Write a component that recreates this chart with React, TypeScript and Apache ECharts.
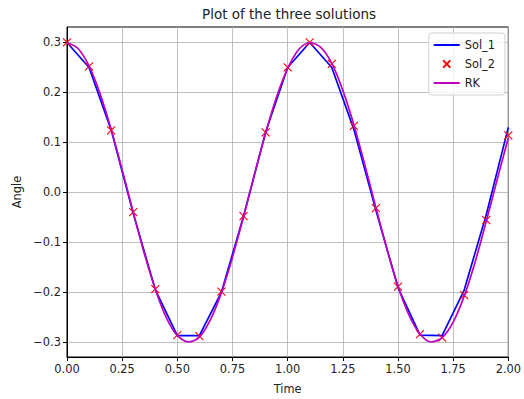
import React, { useEffect, useRef } from "react";
import * as echarts from "echarts";

const times = [0, 0.1, 0.2, 0.3, 0.4, 0.5, 0.6, 0.7, 0.8, 0.9, 1.0, 1.1, 1.2, 1.3, 1.4, 1.5, 1.6, 1.7, 1.8, 1.9, 2.0];
const sol1 = [0.3, 0.25, 0.125, -0.042, -0.195, -0.287, -0.287, -0.2, -0.048, 0.12, 0.25, 0.3, 0.25, 0.126, -0.036, -0.191, -0.286, -0.287, -0.196, -0.045, 0.13];
const sol2 = [0.3, 0.252, 0.124, -0.04, -0.194, -0.286, -0.288, -0.199, -0.048, 0.12, 0.25, 0.3, 0.257, 0.133, -0.032, -0.189, -0.284, -0.291, -0.206, -0.056, 0.114];
const rkTimes = [0, 0.05, 0.1, 0.15, 0.2, 0.25, 0.3, 0.35, 0.4, 0.45, 0.5, 0.55, 0.6, 0.65, 0.7, 0.75, 0.8, 0.85, 0.9, 0.95, 1.0, 1.05, 1.1, 1.15, 1.2, 1.25, 1.3, 1.35, 1.4, 1.45, 1.5, 1.55, 1.6, 1.65, 1.7, 1.75, 1.8, 1.85, 1.9, 1.95, 2.0];
const rk = [0.3, 0.288, 0.253, 0.197, 0.126, 0.045, -0.04, -0.122, -0.194, -0.251, -0.287, -0.3, -0.29, -0.255, -0.201, -0.13, -0.049, 0.036, 0.118, 0.191, 0.248, 0.286, 0.3, 0.29, 0.258, 0.204, 0.135, 0.054, -0.031, -0.114, -0.188, -0.246, -0.284, -0.3, -0.291, -0.26, -0.208, -0.139, -0.058, 0.026, 0.109];
const yTicks = [-0.3, -0.2, -0.1, 0, 0.1, 0.2, 0.3];

const FONT = "DejaVu Sans";
const TXT = "#222";
const XMARK = "path://M0,0L10,10M10,0L0,10";

export default function App() {
  const ref = useRef<HTMLDivElement>(null);
  useEffect(() => {
    if (!ref.current) return;
    const chart = echarts.init(ref.current, undefined, { renderer: "svg" });
    const fmtY = (v: number) => {
      const s = Math.abs(v).toFixed(1);
      return v < -1e-9 ? "\u2212" + s : s;
    };
    chart.setOption({
      animation: false,
      backgroundColor: "#fff",
      grid: { left: 67, top: 27, right: 13, bottom: 42, show: true, borderColor: "#000", borderWidth: 1 },
      graphic: [
        {
          type: "text",
          x: 289,
          y: 14,
          style: { text: "Plot of the three solutions", font: `13.5px "${FONT}"`, fill: TXT, align: "center", verticalAlign: "middle" },
        },
      ],
      xAxis: {
        type: "value",
        min: 0,
        max: 2,
        interval: 0.25,
        name: "Time",
        nameLocation: "middle",
        nameGap: 26,
        nameTextStyle: { fontFamily: FONT, fontSize: 11.4, color: TXT },
        axisLine: { show: true, onZero: false, lineStyle: { color: "#000", width: 1 } },
        axisTick: { show: true, length: 4, lineStyle: { color: "#000" } },
        axisLabel: { fontFamily: FONT, fontSize: 11.4, color: TXT, margin: 6, formatter: (v: number) => v.toFixed(2) },
        splitLine: { show: true, lineStyle: { color: "#b0b0b0", width: 0.8 } },
      },
      yAxis: {
        type: "value",
        min: -0.33,
        max: 0.331,
        name: "Angle",
        nameLocation: "middle",
        nameGap: 44,
        nameTextStyle: { fontFamily: FONT, fontSize: 11.4, color: TXT },
        axisLine: { show: true, onZero: false, lineStyle: { color: "#000", width: 1 } },
        axisTick: { show: true, length: 4, lineStyle: { color: "#000" }, customValues: yTicks },
        axisLabel: { fontFamily: FONT, fontSize: 11.4, color: TXT, margin: 6, formatter: fmtY, customValues: yTicks },
        splitLine: { show: true, lineStyle: { color: "#b0b0b0", width: 0.8 } },
      },
      legend: {
        orient: "vertical",
        right: 19,
        top: 33,
        padding: [5, 10, 5, 4],
        itemGap: 5,
        itemWidth: 26,
        itemHeight: 9,
        borderColor: "#d0d0d0",
        borderWidth: 1,
        borderRadius: 3,
        backgroundColor: "rgba(255,255,255,0.8)",
        textStyle: { fontFamily: FONT, fontSize: 11.4, color: TXT, lineHeight: 14 },
        data: [
          { name: "Sol_1", itemStyle: { opacity: 0 } },
          { name: "Sol_2" },
          { name: "RK", itemStyle: { opacity: 0 } },
        ],
      },
      series: [
        {
          name: "Sol_1",
          type: "line",
          data: times.map((t, i) => [t, sol1[i]]),
          showSymbol: false,
          symbol: "none",
          lineStyle: { color: "#0000ff", width: 1.7 },
          itemStyle: { color: "#0000ff" },
          z: 2,
        },
        {
          name: "Sol_2",
          type: "line",
          data: times.map((t, i) => [t, sol2[i]]),
          showSymbol: true,
          symbol: XMARK,
          symbolSize: 8,
          lineStyle: { width: 0, opacity: 0 },
          itemStyle: { color: "none", borderColor: "#ff0000", borderWidth: 1.1 },
          z: 3,
        },
        {
          name: "RK",
          type: "line",
          data: rkTimes.map((t, i) => [t, rk[i]]),
          showSymbol: false,
          symbol: "none",
          smooth: 0.3,
          lineStyle: { color: "#bf00bf", width: 1.7 },
          itemStyle: { color: "#bf00bf" },
          z: 4,
        },
      ],
    });
    return () => chart.dispose();
  }, []);
  return <div ref={ref} style={{ position: "absolute", left: 0, top: 0, width: 524, height: 399 }} />;
}
